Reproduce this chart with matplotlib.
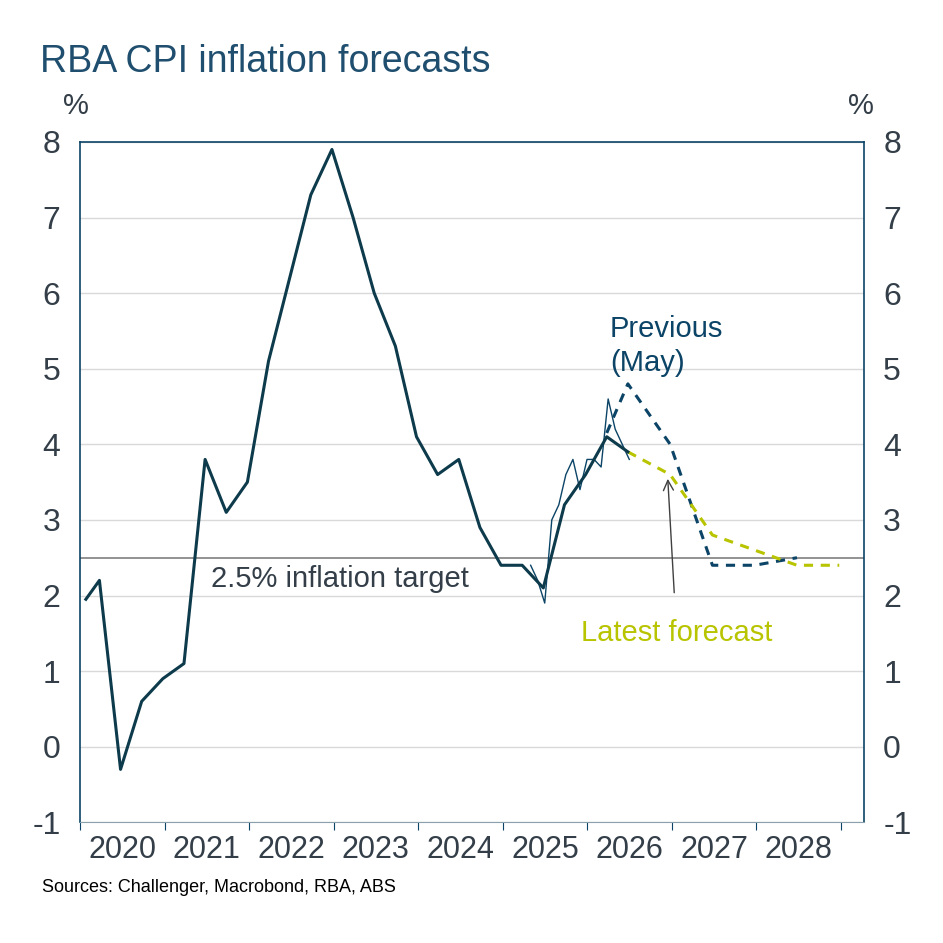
import matplotlib
matplotlib.use("Agg")
import matplotlib.pyplot as plt
import numpy as np

plt.rcParams['font.family'] = ['Liberation Sans', 'DejaVu Sans']

# Quarterly CPI (year-ended %)
cpi_t = [2020.07] + list(2020.23 + 0.25 * np.arange(26))
cpi_v = [1.95, 2.2, -0.3, 0.6, 0.9, 1.1, 3.8, 3.1, 3.5, 5.1, 6.2, 7.3, 7.9,
         7.0, 6.0, 5.3, 4.1, 3.6, 3.8, 2.9, 2.4, 2.4, 2.1, 3.2, 3.6, 4.1, 3.9]
# Monthly CPI indicator
mon_t = list(2025.33 + np.arange(15) / 12)
mon_v = [2.4, 2.2, 1.9, 3.0, 3.2, 3.6, 3.8, 3.4, 3.8, 3.8, 3.7, 4.6, 4.2, 4.0, 3.8]
# Previous (May) forecast
prev_t = list(2026.23 + 0.25 * np.arange(10))
prev_v = [4.15, 4.8, 4.4, 4.0, 3.2, 2.4, 2.4, 2.4, 2.45, 2.5]
# Latest forecast
late_t = list(2026.48 + 0.25 * np.arange(11))
late_v = [3.9, 3.75, 3.6, 3.2, 2.8, 2.7, 2.6, 2.5, 2.4, 2.4, 2.4]
years = list(range(2020, 2029))

dark = '#0d3b4c'
blue = '#0b4466'
yel = '#b8c400'
txt = '#333e48'

fig = plt.figure(figsize=(9.43, 9.43), dpi=100)
ax = fig.add_axes([0.0848, 0.128, 0.8312, 0.7215])
ax.set_xlim(2020, 2029.27)
ax.set_ylim(-1, 8)
for y in range(-1, 9):
    ax.axhline(y, color='#d9d9d9', lw=1, zorder=0)
ax.axhline(2.5, color='#7f7f7f', lw=1.2, zorder=1)

ax.plot(cpi_t, cpi_v, color=dark, lw=2.2, zorder=4)
ax.plot(mon_t, mon_v, color=blue, lw=1.0, zorder=3)
ax.plot(prev_t, prev_v, color=blue, lw=2.2, ls=(0, (3, 2.5)), zorder=3)
ax.plot(late_t, late_v, color=yel, lw=2.2, ls=(0, (3, 2.5)), zorder=3)

for s in ['left', 'right', 'top']:
    ax.spines[s].set_color(blue)
    ax.spines[s].set_linewidth(1.2)
ax.spines['bottom'].set_color('#8aa0ad')

ax.set_yticks(range(-1, 9))
ax.set_yticklabels([str(v) for v in range(-1, 9)])
ax.tick_params(axis='y', length=0, labelsize=23, labelcolor=txt, pad=14,
               labelleft=True, labelright=True)
ax.set_xticks(list(range(2020, 2030)))
ax.set_xticklabels([])
ax.set_xticks([y + 0.5 for y in years], minor=True)
ax.set_xticklabels([str(y) for y in years], minor=True)
ax.tick_params(axis='x', which='major', length=6, color=blue, direction='out')
ax.tick_params(axis='x', which='minor', length=0, labelsize=22, labelcolor=txt, pad=9)

fig.text(0.042, 0.934, 'RBA CPI inflation forecasts', fontsize=27, color='#1f4e6e', va='center')
fig.text(0.080, 0.888, '%', fontsize=21, color=txt, ha='center', va='center')
fig.text(0.913, 0.888, '%', fontsize=21, color=txt, ha='center', va='center')
fig.text(0.045, 0.059, 'Sources: Challenger, Macrobond, RBA, ABS', fontsize=13, color='#000000', va='center')

ax.text(2021.55, 2.22, '2.5% inflation target', fontsize=21, color=txt, va='center')
ax.text(2026.27, 5.3, 'Previous\n(May)', fontsize=21, color=blue, va='center', linespacing=1.3)
ax.text(2025.93, 1.51, 'Latest forecast', fontsize=21, color=yel, va='center')
ax.annotate('', xy=(2026.95, 3.58), xytext=(2027.03, 2.0),
            arrowprops=dict(arrowstyle='->', color='#404040', lw=1, mutation_scale=18))

fig.savefig('out.png', dpi=100)
